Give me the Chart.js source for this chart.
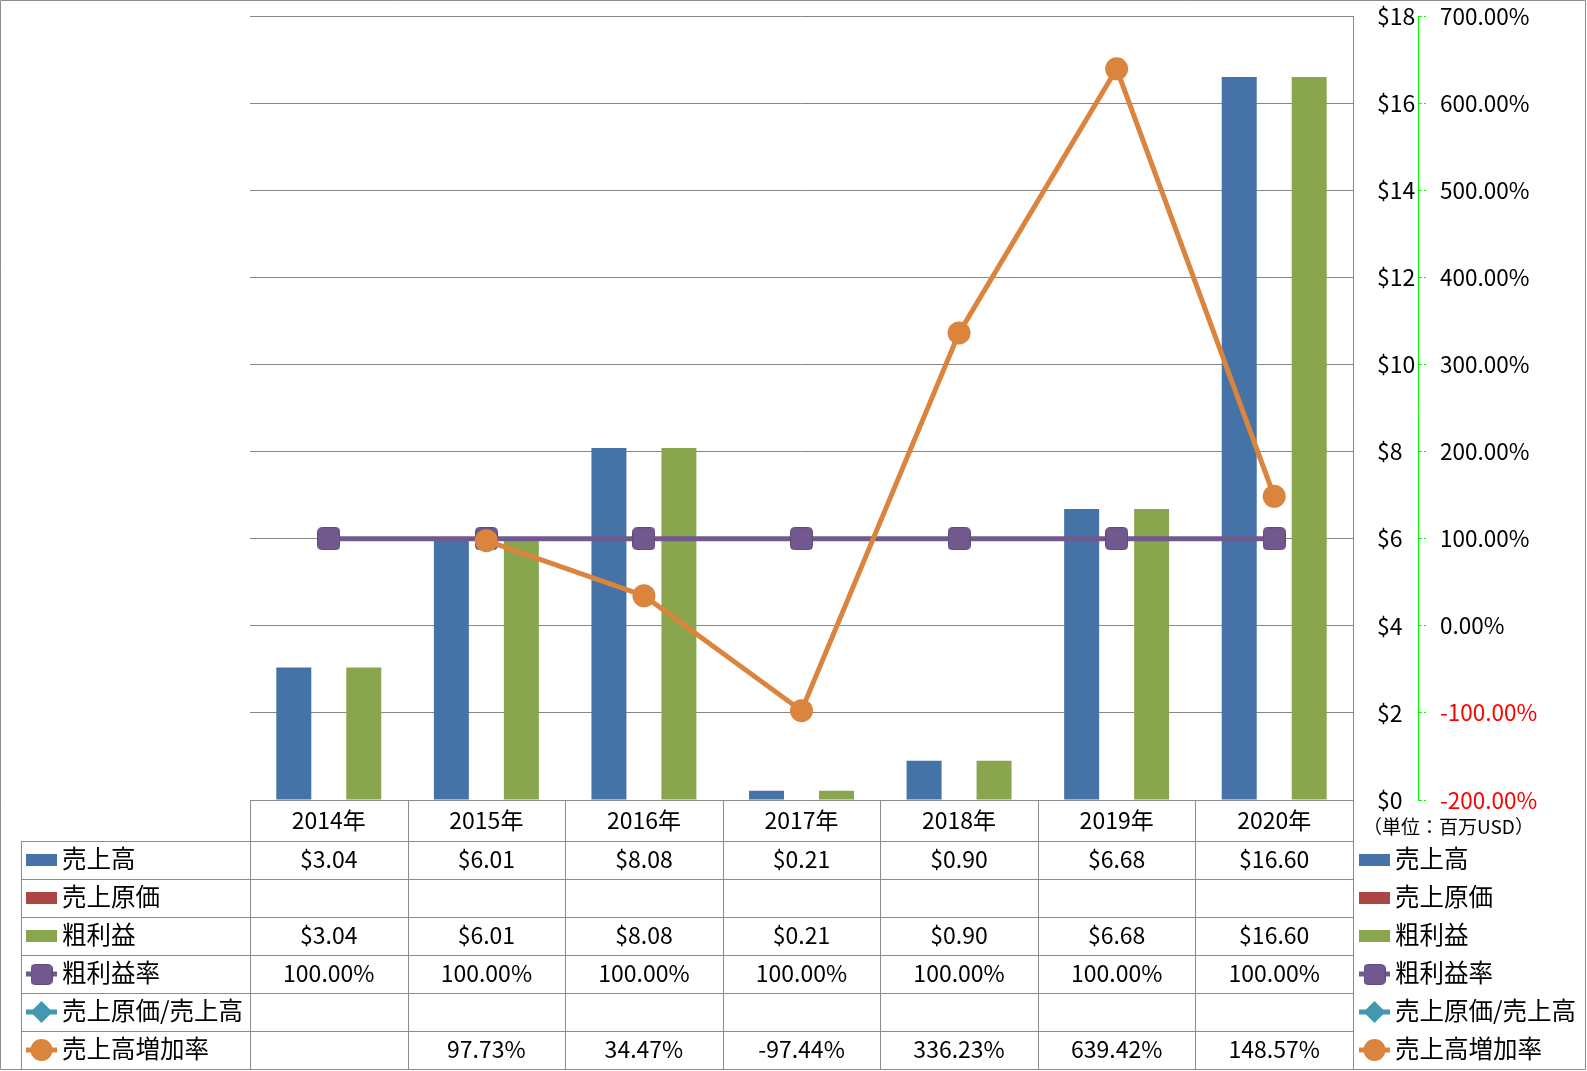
<!DOCTYPE html>
<html lang="ja">
<head>
  <meta charset="UTF-8">
  <title>売上高・粗利益の推移</title>
  <style>
    * {
      margin: 0;
      padding: 0;
      box-sizing: border-box;
    }

    body {
      background: #fff;
    }

    #wrap {
      width: 1587px;
      height: 1071px;
    }
  </style>

  <!-- Chart.js CDN -->
  <script src="https://cdn.jsdelivr.net/npm/chart.js"></script>
</head>
<body>

  <div id="wrap">
    <canvas id="salesChart" width="1587" height="1071"></canvas>
  </div>

  <script>
// Data (百万USD / %)
const years = ['2014年', '2015年', '2016年', '2017年', '2018年', '2019年', '2020年'];
const sales = [3.04, 6.01, 8.08, 0.21, 0.90, 6.68, 16.60];
const costOfSales = [null, null, null, null, null, null, null];
const grossProfit = [3.04, 6.01, 8.08, 0.21, 0.90, 6.68, 16.60];
const grossMargin = [100, 100, 100, 100, 100, 100, 100];
const costRatio = [null, null, null, null, null, null, null];
const salesGrowth = [null, 97.73, 34.47, -97.44, 336.23, 639.42, 148.57];

// Tick labels
const dollarTicks = [0, 2, 4, 6, 8, 10, 12, 14, 16, 18];
const percentTicks = [-200, -100, 0, 100, 200, 300, 400, 500, 600, 700];

// Colours
const BLUE = '#4572A7';
const RED = '#AA4643';
const GREEN = '#89A54E';
const PURPLE = '#71588F';
const CYAN = '#4198AF';
const ORANGE = '#DB843D';
const LINE_GRAY = '#8c8c8c';

const FONT = "'Noto Sans CJK JP', 'Noto Sans', sans-serif";
const FONT_SIZE = 23;
const LABEL_SIZE = 24.5;

Chart.defaults.font.family = FONT;
Chart.defaults.font.size = FONT_SIZE;
Chart.defaults.color = '#000';

const fmtDollar = v => '$' + v.toFixed(2);
const fmtPct = v => v.toFixed(2) + '%';

// rounded square marker for 粗利益率
function makeSquare(size) {
  const c = document.createElement('canvas');
  c.width = size;
  c.height = size;
  const g = c.getContext('2d');
  g.fillStyle = PURPLE;
  g.strokeStyle = '#5f4a7a';
  g.lineWidth = 1;
  g.beginPath();
  g.roundRect(0.5, 0.5, size - 1, size - 1, 4);
  g.fill();
  g.stroke();
  return c;
}
const squareMarker = makeSquare(23);

// legend keys (used for the data table and the right legend)
function drawKey(ctx, kind, color, x, cy) {
  const w = 31;
  ctx.save();
  if (kind === 'bar') {
    ctx.fillStyle = color;
    ctx.fillRect(x, cy - 6, w, 12);
  } else {
    ctx.strokeStyle = color;
    ctx.lineWidth = 5;
    ctx.beginPath();
    ctx.moveTo(x, cy);
    ctx.lineTo(x + w, cy);
    ctx.stroke();
    const mx = x + w / 2;
    ctx.fillStyle = color;
    if (kind === 'square') {
      ctx.drawImage(squareMarker, mx - 11, cy - 10, 22, 21);
    } else if (kind === 'diamond') {
      ctx.beginPath();
      ctx.moveTo(mx, cy - 11);
      ctx.lineTo(mx + 11, cy);
      ctx.lineTo(mx, cy + 11);
      ctx.lineTo(mx - 11, cy);
      ctx.closePath();
      ctx.fill();
    } else {
      ctx.beginPath();
      ctx.arc(mx, cy, 11, 0, Math.PI * 2);
      ctx.fill();
    }
  }
  ctx.restore();
}

const tableRows = [
  { label: '売上高', kind: 'bar', color: BLUE, values: sales, fmt: fmtDollar },
  { label: '売上原価', kind: 'bar', color: RED, values: costOfSales, fmt: fmtDollar },
  { label: '粗利益', kind: 'bar', color: GREEN, values: grossProfit, fmt: fmtDollar },
  { label: '粗利益率', kind: 'square', color: PURPLE, values: grossMargin, fmt: fmtPct },
  { label: '売上原価/売上高', kind: 'diamond', color: CYAN, values: costRatio, fmt: fmtPct },
  { label: '売上高増加率', kind: 'circle', color: ORANGE, values: salesGrowth, fmt: fmtPct }
];

// Data table under the plot + legend on the right
const dataTable = {
  id: 'dataTable',
  afterDraw(chart) {
    const { ctx, chartArea: ca, scales } = chart;
    const x = scales.x;
    const colW = (ca.right - ca.left) / years.length;
    const headTop = ca.bottom;
    const headH = 41;
    const rowH = 38;
    const tableLeft = 21;
    const tableBottom = headTop + headH + rowH * tableRows.length;
    const px = v => Math.round(v) + 0.5;

    ctx.save();
    ctx.strokeStyle = LINE_GRAY;
    ctx.lineWidth = 1;
    ctx.beginPath();
    // outer chart border
    ctx.rect(0.5, 0.5, 1585, 1069);
    // header top
    ctx.moveTo(ca.left, px(headTop));
    ctx.lineTo(ca.right, px(headTop));
    // row lines
    for (let r = 0; r <= tableRows.length; r++) {
      const y = px(headTop + headH + r * rowH);
      ctx.moveTo(tableLeft, y);
      ctx.lineTo(ca.right, y);
    }
    // verticals
    ctx.moveTo(px(tableLeft), headTop + headH);
    ctx.lineTo(px(tableLeft), tableBottom);
    for (let i = 0; i <= years.length; i++) {
      const vx = px(ca.left + i * colW);
      ctx.moveTo(vx, headTop);
      ctx.lineTo(vx, tableBottom);
    }
    ctx.stroke();

    ctx.fillStyle = '#000';
    ctx.font = FONT_SIZE + 'px ' + FONT;
    ctx.textBaseline = 'middle';
    ctx.textAlign = 'center';
    years.forEach((yr, i) => {
      ctx.fillText(yr, x.getPixelForValue(i), headTop + headH / 2);
    });

    tableRows.forEach((row, r) => {
      const cy = headTop + headH + r * rowH + rowH / 2;
      ctx.font = FONT_SIZE + 'px ' + FONT;
      ctx.textAlign = 'center';
      row.values.forEach((v, i) => {
        if (v !== null) ctx.fillText(row.fmt(v), x.getPixelForValue(i), cy - 1);
      });
      ctx.font = LABEL_SIZE + 'px ' + FONT;
      ctx.textAlign = 'left';
      drawKey(ctx, row.kind, row.color, 26, cy);
      ctx.fillText(row.label, 62, cy - 1);
      drawKey(ctx, row.kind, row.color, 1359, cy);
      ctx.fillText(row.label, 1395, cy - 1);
    });

    ctx.font = '19px ' + FONT;
    ctx.textAlign = 'left';
    ctx.fillText('（単位：百万USD）', 1363, headTop + 27);
    ctx.restore();
  }
};

new Chart(document.getElementById('salesChart'), {
  type: 'bar',
  data: {
    labels: years,
    datasets: [
      { label: '売上高', data: sales, backgroundColor: BLUE, yAxisID: 'y', order: 2 },
      { label: '売上原価', data: costOfSales, backgroundColor: RED, yAxisID: 'y', order: 2 },
      { label: '粗利益', data: grossProfit, backgroundColor: GREEN, yAxisID: 'y', order: 2 },
      {
        type: 'line', label: '粗利益率', data: grossMargin, yAxisID: 'y1', order: 1,
        borderColor: PURPLE, borderWidth: 5, pointStyle: squareMarker,
        pointRadius: 11, pointHoverRadius: 11
      },
      {
        type: 'line', label: '売上原価/売上高', data: costRatio, yAxisID: 'y1', order: 1,
        borderColor: CYAN, backgroundColor: CYAN, borderWidth: 5, pointStyle: 'rectRot', pointRadius: 11
      },
      {
        type: 'line', label: '売上高増加率', data: salesGrowth, yAxisID: 'y1', order: 0,
        borderColor: ORANGE, backgroundColor: ORANGE, borderWidth: 5,
        pointStyle: 'circle', pointRadius: 11.5, pointBorderWidth: 0, pointHoverRadius: 11.5
      }
    ]
  },
  options: {
    responsive: false,
    animation: false,
    layout: { padding: { left: 250, top: 15, right: 0, bottom: 271 } },
    categoryPercentage: 0.666,
    barPercentage: 1,
    plugins: {
      legend: { display: false },
      tooltip: { enabled: false }
    },
    scales: {
      x: { display: false },
      y: {
        position: 'right',
        min: dollarTicks[0],
        max: dollarTicks[dollarTicks.length - 1],
        afterFit: s => { s.width = 65; s.paddingTop = 0; s.paddingBottom = 0; },
        afterBuildTicks: s => { s.ticks = dollarTicks.map(v => ({ value: v })); },
        ticks: { padding: 24, callback: v => '$' + v },
        grid: { color: '#868686', drawTicks: false },
        border: { display: true, color: LINE_GRAY }
      },
      y1: {
        position: 'right',
        min: percentTicks[0],
        max: percentTicks[percentTicks.length - 1],
        afterFit: s => { s.width = 169; s.paddingTop = 0; s.paddingBottom = 0; },
        afterBuildTicks: s => { s.ticks = percentTicks.map(v => ({ value: v })); },
        ticks: {
          padding: 14,
          font: { size: 22.5 },
          callback: v => v.toFixed(2) + '%',
          color: c => (c.tick && c.tick.value < 0 ? '#ff0000' : '#000')
        },
        grid: { drawOnChartArea: false, tickLength: 8, color: '#00ff00', tickBorderDash: [3, 2] },
        border: { display: true, color: '#00ff00', dash: [4, 3] }
      }
    }
  },
  plugins: [dataTable]
});
  </script>

</body>
</html>
